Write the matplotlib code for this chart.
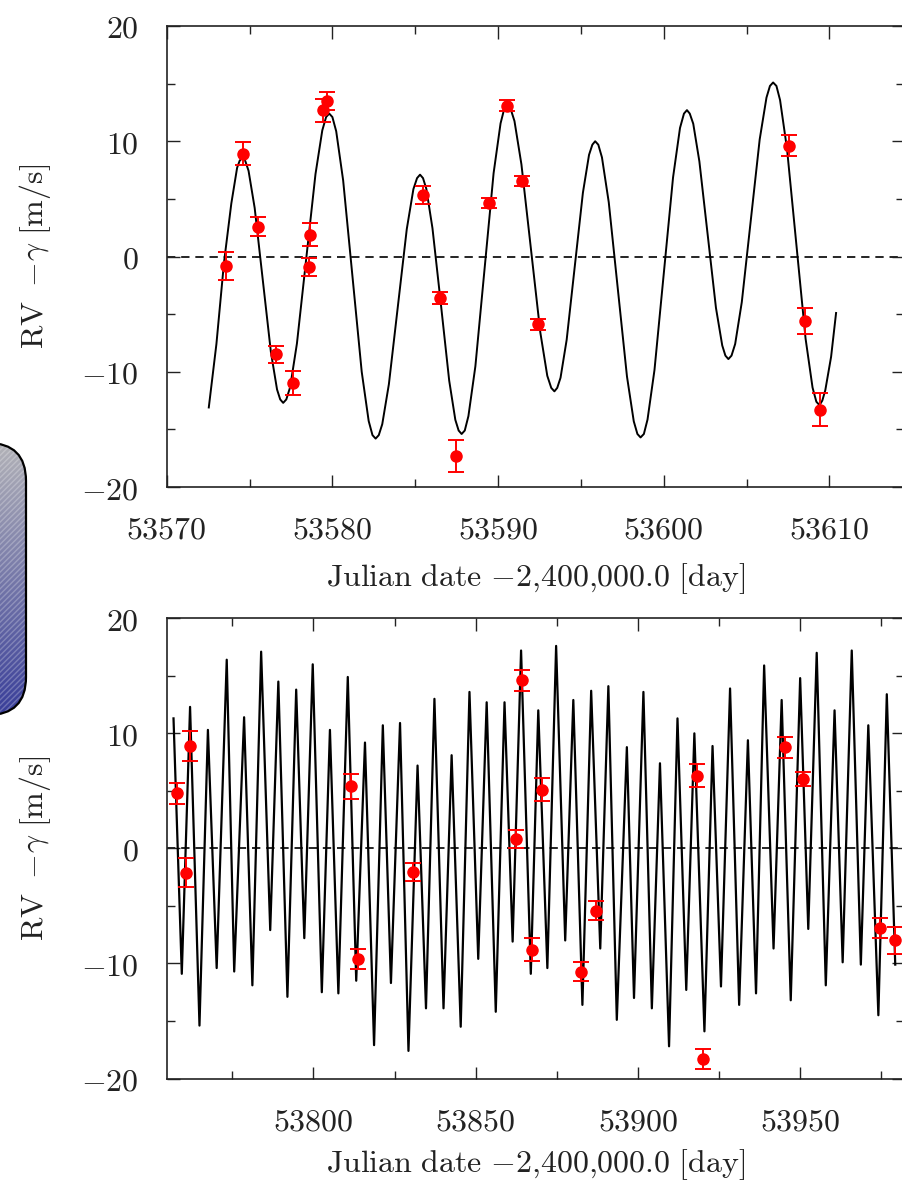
import matplotlib.pyplot as plt
import numpy as np
from matplotlib.patches import FancyBboxPatch
from matplotlib.ticker import MultipleLocator, FuncFormatter

plt.rcParams['mathtext.fontset'] = 'cm'
plt.rcParams['font.family'] = ['DejaVu Serif']

# ---- top panel: observations ----
top_t = [53573.58, 53574.59, 53575.53, 53576.60, 53577.64, 53578.61, 53578.65,
         53579.45, 53579.66, 53585.45, 53586.50, 53587.47, 53589.46, 53590.53,
         53591.43, 53592.43, 53607.53, 53608.53, 53609.44]
top_rv = [-0.8, 8.9, 2.6, -8.5, -11.0, -0.9, 1.9, 12.7, 13.5, 5.35, -3.6,
          -17.3, 4.65, 13.1, 6.55, -5.9, 9.6, -5.6, -13.3]
top_err = [1.2, 1.0, 0.85, 0.75, 1.05, 0.8, 1.0, 1.0, 0.8, 0.8, 0.5, 1.4,
           0.45, 0.45, 0.45, 0.45, 0.9, 1.1, 1.45]

# ---- top panel: model curve ----
top_model_t = [
    53572.54, 53573.00, 53573.46, 53573.90, 53574.25, 53574.40, 53574.57, 53574.74,
    53574.94, 53575.31, 53575.80, 53576.29, 53576.66, 53576.85, 53577.03, 53577.22,
    53577.45, 53577.86, 53578.42, 53578.98, 53579.39, 53579.62, 53579.81, 53580.00,
    53580.23, 53580.65, 53581.21, 53581.77, 53582.19, 53582.42, 53582.61, 53582.80,
    53583.01, 53583.41, 53583.95, 53584.49, 53584.89, 53585.11, 53585.29, 53585.47,
    53585.67, 53586.04, 53586.55, 53587.05, 53587.42, 53587.62, 53587.80, 53587.99,
    53588.21, 53588.63, 53589.18, 53589.73, 53590.15, 53590.37, 53590.56, 53590.76,
    53590.99, 53591.41, 53591.98, 53592.55, 53592.97, 53593.21, 53593.40, 53593.57,
    53593.77, 53594.14, 53594.63, 53595.12, 53595.49, 53595.69, 53595.86, 53596.05,
    53596.27, 53596.68, 53597.23, 53597.78, 53598.19, 53598.41, 53598.60, 53598.80,
    53599.02, 53599.44, 53600.00, 53600.56, 53600.98, 53601.22, 53601.40, 53601.57,
    53601.78, 53602.15, 53602.65, 53603.15, 53603.53, 53603.72, 53603.90, 53604.09,
    53604.31, 53604.71, 53605.25, 53605.79, 53606.20, 53606.41, 53606.60, 53606.80,
    53607.02, 53607.44, 53608.00, 53608.56, 53608.98, 53609.21, 53609.40, 53609.57,
    53609.75, 53610.10, 53610.40]
top_model_rv = [
    -13.1, -7.6, -0.5, 4.6, 7.7, 8.3, 8.6, 8.3,
    7.44, 4.21, -2.05, -8.31, -11.54, -12.4, -12.7, -12.4,
    -11.34, -7.55, -0.2, 7.15, 10.94, 12.1, 12.4, 12.1,
    10.87, 6.6, -1.7, -10.0, -14.27, -15.5, -15.8, -15.5,
    -14.55, -11.08, -4.35, 2.38, 5.85, 6.8, 7.1, 6.8,
    5.87, 2.46, -4.15, -10.77, -14.17, -15.1, -15.4, -15.1,
    -13.85, -9.53, -1.15, 7.23, 11.55, 12.8, 13.1, 12.8,
    11.75, 7.99, 0.7, -6.59, -10.35, -11.4, -11.7, -11.4,
    -10.52, -7.23, -0.85, 5.53, 8.82, 9.7, 10.0, 9.7,
    8.6, 4.71, -2.85, -10.41, -14.3, -15.4, -15.7, -15.4,
    -14.15, -9.85, -1.5, 6.85, 11.15, 12.4, 12.7, 12.4,
    11.52, 8.25, 1.9, -4.45, -7.72, -8.6, -8.9, -8.6,
    -7.59, -3.96, 3.1, 10.16, 13.79, 14.8, 15.1, 14.8,
    13.57, 9.33, 1.1, -7.13, -11.37, -12.6, -12.9, -12.5,
    -11.6, -8.7, -4.9]

# ---- bottom panel: observations ----
bot_t = [53757.9, 53760.8, 53762.0, 53811.6, 53813.9, 53830.6, 53862.4,
         53864.2, 53867.5, 53870.6, 53882.4, 53887.0, 53918.2, 53920.2,
         53945.4, 53951.0, 53974.6, 53979.3]
bot_rv = [4.8, -2.1, 8.9, 5.4, -9.6, -2.05, 0.8, 14.6, -8.8, 5.1, -10.7,
          -5.4, 6.3, -18.3, 8.8, 6.0, -6.9, -8.0]
bot_err = [0.9, 1.25, 1.3, 1.1, 0.85, 0.8, 0.8, 0.9, 1.0, 1.0, 0.8, 0.8,
           1.0, 0.9, 0.9, 0.6, 0.85, 1.15]

# ---- bottom panel: model curve extrema ----
bot_model_t = [53756.9, 53759.45, 53762.0, 53764.9, 53767.5, 53770.2, 53773.3,
               53775.6, 53778.65, 53781.2, 53783.9, 53786.7, 53789.2, 53792.0,
               53794.7, 53797.2, 53799.8, 53802.6, 53805.1, 53807.7, 53810.6,
               53813.2, 53815.9, 53818.7, 53821.4, 53823.9, 53826.7, 53829.3,
               53832.1, 53834.7, 53837.3, 53840.1, 53842.6, 53845.4, 53848.1,
               53850.8, 53853.4, 53856.2, 53858.9, 53861.4, 53864.0, 53867.0,
               53869.3, 53872.1, 53874.8, 53877.6, 53880.1, 53882.9, 53885.6,
               53888.4, 53890.9, 53893.5, 53896.6, 53898.8, 53901.7, 53904.3,
               53906.8, 53909.6, 53912.2, 53914.9, 53917.4, 53920.5, 53923.0,
               53925.6, 53928.4, 53931.2, 53933.9, 53936.4, 53938.9, 53941.8,
               53944.3, 53947.1, 53950.0, 53952.5, 53955.1, 53957.9, 53960.6,
               53963.1, 53965.9, 53968.7, 53971.0, 53974.1, 53976.7, 53979.3]
bot_model_rv = [11.3, -10.9, 12.3, -15.4, 10.3, -10.4, 16.4,
                -10.7, 11.4, -11.9, 17.1, -7.1, 14.5, -12.9,
                13.8, -7.8, 16.0, -12.5, 10.3, -12.6, 14.9,
                -11.5, 9.2, -17.1, 10.7, -11.7, 10.9, -17.6,
                7.2, -13.9, 13.0, -13.9, 8.1, -15.5, 13.6,
                -9.6, 12.7, -14.2, 12.7, -8.1, 17.2, -10.9,
                12.0, -10.4, 17.6, -8.0, 12.9, -13.6, 13.7,
                -8.7, 14.1, -14.9, 8.8, -13.0, 13.6, -13.9,
                7.4, -17.2, 11.3, -12.3, 10.0, -15.9, 8.9,
                -12.0, 13.9, -13.6, 9.4, -12.6, 15.9, -8.7,
                12.9, -13.2, 14.8, -7.0, 17.0, -11.9, 12.0,
                -9.9, 17.2, -10.1, 10.7, -14.5, 13.4, -10.1]

W, H = 902, 1189
fig = plt.figure(figsize=(W / 100, H / 100), dpi=100)

tick_fmt = FuncFormatter(lambda v, p: r'$%d$' % round(v))
ylab = r'$\mathrm{RV}\ -\!\gamma\ [\mathrm{m/s}]$'
xlab = r'$\mathrm{Julian\ date}\ {-}2{,}400{,}000.0\ [\mathrm{day}]$'


def style_axes(ax, xmajor, xminor):
    ax.set_ylim(-20, 20)
    ax.xaxis.set_major_locator(MultipleLocator(xmajor))
    ax.xaxis.set_minor_locator(MultipleLocator(xminor))
    ax.yaxis.set_major_locator(MultipleLocator(10))
    ax.yaxis.set_minor_locator(MultipleLocator(5))
    ax.xaxis.set_major_formatter(tick_fmt)
    ax.yaxis.set_major_formatter(tick_fmt)
    ax.tick_params(which='both', direction='in', top=True, right=True,
                   width=1.0, labelsize=23, pad=20, colors='#222222')
    ax.tick_params(which='major', length=9)
    ax.tick_params(which='minor', length=6)
    for s in ax.spines.values():
        s.set_linewidth(1.2)
        s.set_color('#222222')
    ax.axhline(0, color='k', lw=1.2, dashes=(5, 3.5), zorder=1)
    ax.set_ylabel(ylab, fontsize=23, color='#222222')
    ax.set_xlabel(xlab, fontsize=23, color='#222222')
    ax.yaxis.label.set_va('center')
    ax.xaxis.label.set_va('center')
    ax.yaxis.set_label_coords(-0.178, 0.5)
    ax.xaxis.set_label_coords(0.5, -0.198)


def plot_points(ax, t, rv, err):
    ax.errorbar(t, rv, yerr=err, fmt='o', color='red', ms=8,
                elinewidth=1.4, capsize=5.5, capthick=1.4, zorder=3)


# top panel
ax1 = fig.add_axes([166.7 / W, 1 - 487 / H, (904 - 166.7) / W, 461 / H])
ax1.plot(top_model_t, top_model_rv, color='k', lw=1.4, zorder=2)
plot_points(ax1, top_t, top_rv, top_err)
ax1.set_xlim(53570, 53614.5)
style_axes(ax1, 10, 5)

# bottom panel
ax2 = fig.add_axes([166.7 / W, 1 - 1078.5 / H, (904 - 166.7) / W, 460.2 / H])
ax2.plot(bot_model_t, bot_model_rv, color='k', lw=1.6, zorder=2)
plot_points(ax2, bot_t, bot_rv, bot_err)
ax2.set_xlim(53754.8, 53982.0)
style_axes(ax2, 50, 25)
ax2.xaxis.set_label_coords(0.5, -0.188)

# decorative rounded box at the left edge
bg = fig.add_axes([0, 0, 1, 1], zorder=-5)
bg.set_xlim(0, W)
bg.set_ylim(H, 0)
bg.axis('off')
box = FancyBboxPatch((-80, 443), 106, 272, boxstyle='round,pad=0,rounding_size=38',
                     fc='none', ec='k', lw=1.6, zorder=3)
bg.add_patch(box)
grad = np.linspace(0, 1, 256)[:, None]
img = bg.imshow(np.dstack([0.70 - 0.48 * grad, 0.70 - 0.46 * grad, 0.72 - 0.12 * grad]),
                extent=(-80, 26, 715, 443), aspect='auto', zorder=1)
img.set_clip_path(box)
hatch = FancyBboxPatch((-80, 443), 106, 272, boxstyle='round,pad=0,rounding_size=38',
                       fill=False, ec=(1, 1, 1, 0.25), lw=0, hatch='//////', zorder=2)
bg.add_patch(hatch)

fig.savefig('out.png', dpi=100)
